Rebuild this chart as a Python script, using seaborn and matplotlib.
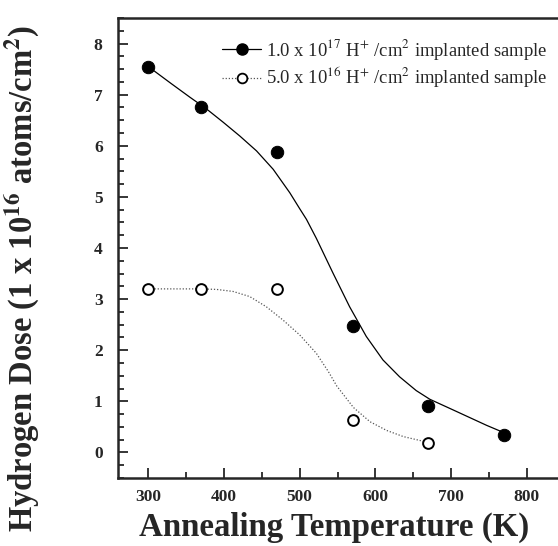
import numpy as np
import pandas as pd
import seaborn as sns
import matplotlib
matplotlib.use('Agg')
import matplotlib.pyplot as plt
from matplotlib.lines import Line2D
from matplotlib.ticker import MultipleLocator

# measured points
temp_hi = [300, 370, 470, 570, 670, 770]
dose_hi = [7.55, 6.75, 5.88, 2.47, 0.90, 0.35]
temp_lo = [300, 370, 470, 570, 670]
dose_lo = [3.20, 3.20, 3.20, 0.63, 0.18]

# fitted curves
fit_hi_x = [300, 330, 355, 377, 399, 421, 443, 465, 487, 500, 509, 522, 544, 566, 588,
            610, 632, 654, 672, 703, 747, 771]
fit_hi_y = [7.55, 7.22, 6.95, 6.72, 6.46, 6.19, 5.90, 5.54, 5.08, 4.77, 4.56, 4.19, 3.51, 2.85, 2.27,
            1.81, 1.48, 1.21, 1.04, 0.83, 0.53, 0.38]
fit_lo_x = [300, 340, 368, 390, 412, 434, 456, 478, 500, 522, 538, 549, 571, 593, 615, 637, 663, 671]
fit_lo_y = [3.20, 3.20, 3.20, 3.19, 3.15, 3.05, 2.85, 2.59, 2.30, 1.94, 1.58, 1.30, 0.88, 0.60, 0.43,
            0.31, 0.22, 0.20]

label_hi = r'1.0 x 10$^{17}$ H$^{+}$ /cm$^{2}$ implanted sample'
label_lo = r'5.0 x 10$^{16}$ H$^{+}$ /cm$^{2}$ implanted sample'

sns.set_style('ticks')
plt.rcParams['font.family'] = ['Liberation Serif', 'DejaVu Serif']
plt.rcParams['mathtext.fontset'] = 'stix'

fig = plt.figure(figsize=(5.58, 5.46), dpi=100)
ax = fig.add_axes([118 / 558, 1 - 478 / 546, (564.6 - 118) / 558, (478 - 18) / 546])

sns.lineplot(x=fit_hi_x, y=fit_hi_y, ax=ax, color='black', linewidth=0.9, linestyle='-')
sns.lineplot(x=fit_lo_x, y=fit_lo_y, ax=ax, color='#555555', linewidth=0.9, linestyle=(0, (1, 1.5)))
sns.scatterplot(x=temp_hi, y=dose_hi, ax=ax, color='black', s=80, edgecolor='black', zorder=5)
sns.scatterplot(x=temp_lo, y=dose_lo, ax=ax, facecolor='white', s=60, edgecolor='black',
                linewidth=1.4, zorder=5)

ax.set_xlim(260, 850)
ax.set_ylim(-0.5, 8.5)
ax.xaxis.set_major_locator(MultipleLocator(100))
ax.xaxis.set_minor_locator(MultipleLocator(50))
ax.yaxis.set_major_locator(MultipleLocator(1))
ax.yaxis.set_minor_locator(MultipleLocator(0.25))
ax.tick_params(which='both', direction='in', top=False, right=False, width=1.3)
ax.tick_params(which='major', length=7, labelsize=12.5)
ax.tick_params(which='minor', length=4)
ax.tick_params(axis='x', which='major', pad=8)
ax.tick_params(axis='y', which='major', pad=11)
for lab in ax.get_xticklabels() + ax.get_yticklabels():
    lab.set_fontweight('bold')
for sp in ax.spines.values():
    sp.set_linewidth(1.8)
    sp.set_visible(True)

ax.set_xlabel('Annealing Temperature (K)', fontsize=23.7, fontweight='bold')
ax.set_ylabel(r'Hydrogen Dose (1 x 10$^{\mathbf{16}}$ atoms/cm$^{\mathbf{2}}$)',
              fontsize=23.5, fontweight='bold')
ax.xaxis.set_label_coords(0.485, -0.073)
ax.yaxis.set_label_coords(-0.17, 0.435)

handles = [
    Line2D([], [], color='black', linewidth=0.9, marker='o', markersize=8,
           markerfacecolor='black', markeredgecolor='black'),
    Line2D([], [], color='#555555', linewidth=0.9, linestyle=(0, (1, 1.5)), marker='o',
           markersize=7, markerfacecolor='white', markeredgecolor='black', markeredgewidth=1.3),
]
ax.legend(handles, [label_hi, label_lo], loc='upper left', bbox_to_anchor=(0.1955, 0.996),
          frameon=False, fontsize=13.4, handlelength=2.1, handletextpad=0.26, labelspacing=0.16)

fig.savefig('out.png', dpi=100)
